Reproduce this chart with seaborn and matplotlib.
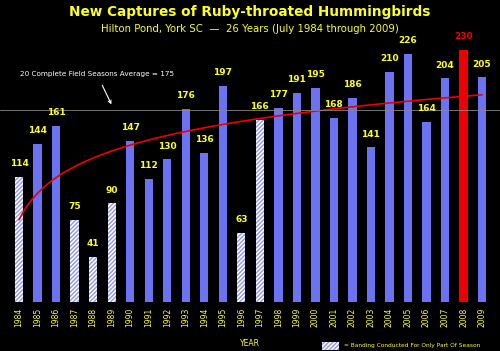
import numpy as np
import pandas as pd
import matplotlib
matplotlib.use("Agg")
import matplotlib.pyplot as plt
from matplotlib.patches import Rectangle
import seaborn as sns

years = list(range(1984, 2010))
captures = [114, 144, 161, 75, 41, 90, 147, 112, 130, 176, 136, 197, 63,
            166, 177, 191, 195, 168, 186, 141, 210, 226, 164, 204, 230, 205]
partial_years = [1984, 1987, 1988, 1989, 1996, 1997]
record_year = 2008
season_avg = 175
# log trendline: y = start + slope * ln(season number)
trend_start, trend_slope = 75, 35

BG, YEL, BLUE, RED = "black", "#FFFF22", "#6B73F2", "#EE0000"
sns.set_theme(style="dark")
plt.rcParams["font.family"] = ["DejaVu Sans"]
plt.rcParams["hatch.linewidth"] = 1.0

df = pd.DataFrame({"year": [str(y) for y in years], "n": captures})
colors = [RED if y == record_year else ("white" if y in partial_years else BLUE) for y in years]

fig = plt.figure(figsize=(5, 3.51), dpi=100, facecolor=BG)
ax = fig.add_axes([0, 0, 1, 1])
ax.set_facecolor(BG)
sns.barplot(data=df, x="year", y="n", hue="year", palette=colors, legend=False,
            width=0.45, saturation=1, linewidth=0, ax=ax)
for y, p in zip(years, ax.patches):
    p.set_linewidth(0)
    if y in partial_years:
        p.set_hatch("////////"); p.set_edgecolor("#8E94F0")

xs = np.linspace(1, len(captures), 200)
ax.plot(xs - 1, trend_start + trend_slope * np.log(xs), color=RED, lw=1.2)

ax.axhline(season_avg, color="#888888", lw=0.6)
ax.annotate("20 Complete Field Seasons Average = 175", xy=(5.05, season_avg + 3),
            xytext=(4.2, season_avg + 33), color="white", fontsize=5.2,
            ha="center", va="center",
            arrowprops=dict(arrowstyle="->", color="white", lw=0.8, shrinkA=4))

for i, (y, v) in enumerate(zip(years, captures)):
    ax.text(i, v + 8, str(v), ha="center", va="bottom", fontsize=6.5,
            fontweight="bold", color=RED if y == record_year else YEL)
    ax.text(i, -5, str(y), ha="center", va="top", rotation=90, fontsize=5.5, color=YEL)

ax.text(12.45, -38, "YEAR", ha="center", va="center", fontsize=5.5, color=YEL)
ax.add_patch(Rectangle((16.35, -44), 0.95, 7.5, facecolor="white", edgecolor="#8E94F0",
                       hatch="////////", lw=0, clip_on=False))
ax.text(17.55, -40, "= Banding Conducted For Only Part Of Season",
        ha="left", va="center", fontsize=4.2, color=YEL)

fig.text(0.5, 0.966, "New Captures of Ruby-throated Hummingbirds", ha="center", va="center",
         fontsize=9.8, fontweight="bold", color=YEL)
fig.text(0.5, 0.917, "Hilton Pond, York SC  \u2014  26 Years (July 1984 through 2009)",
         ha="center", va="center", fontsize=7.3, color=YEL)

ax.set_xlim(-1.03, 25.97)
ax.set_ylim(-44.7, 275.5)
ax.set_axis_off()
fig.savefig("out.png", dpi=100, facecolor=BG)
